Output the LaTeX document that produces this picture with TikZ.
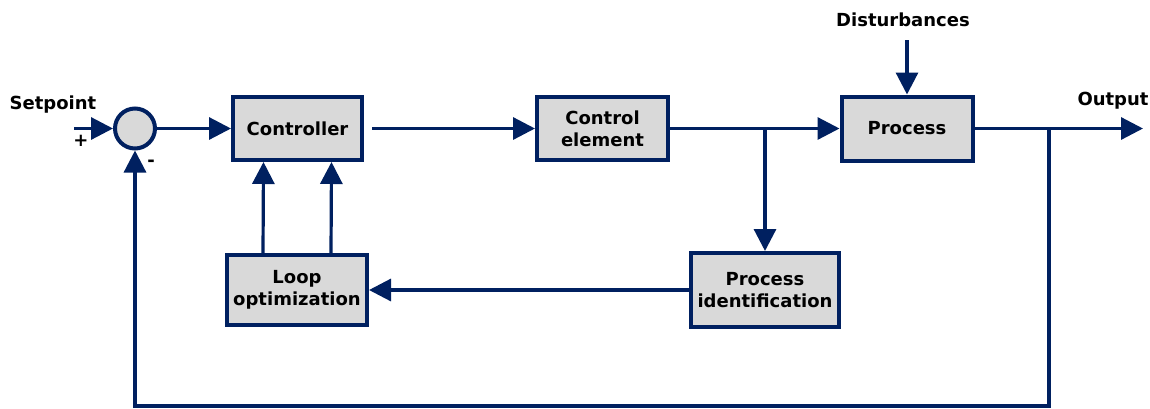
\documentclass[tikz,border=0pt]{standalone}
\usepackage{fontspec}
\setmainfont{DejaVu Sans}
\usetikzlibrary{arrows.meta,%
		calc,%
		positioning}
\definecolor{navy}{RGB}{0,32,96}
\definecolor{boxgray}{RGB}{217,217,217}
\tikzset{blockbox/.style={draw=navy, fill=boxgray, line width=4pt,
		font=\bfseries\fontsize{18}{22}\selectfont, align=center, inner sep=0pt},
	sig/.style={draw=navy, line width=3.2pt, -{Triangle[length=22pt,width=22pt]}},
	lbl/.style={font=\bfseries\fontsize{18}{22}\selectfont}}

\begin{document}
\begin{tikzpicture}[x=1pt,y=-1pt]
\useasboundingbox (0,0) rectangle (1150,408);
%blocchi
\node[blockbox, circle, minimum size=40pt] (sum) at (135,128.5) {};
\node[blockbox, minimum width=129pt, minimum height=63pt] (ctrl) at (297.5,128.5) {Controller};
\node[blockbox, minimum width=131pt, minimum height=63pt] (elem) at (602.5,128.5) {Control\\element};
\node[blockbox, minimum width=131pt, minimum height=64pt] (proc) at (907,128.5) {Process};
\node[blockbox, minimum width=148pt, minimum height=74pt] (pid) at (765,290) {Process\\identification};
\node[blockbox, minimum width=140pt, minimum height=70pt] (loop) at (297,290) {Loop\\optimization};
%etichette
\node[lbl] (setp) at (53,105) {Setpoint};
\node[lbl] (plus) at (81,141) {+};
\node[lbl] (minus) at (151,163) {-};
\node[lbl] (dist) at (903,20) {Disturbances};
\node[lbl] (outl) at (1113,101) {Output};
%punti
\coordinate (sp) at (74,128.5);
\coordinate (dtop) at (907,40);
\coordinate (br1) at (765,128.5);
\coordinate (br2) at (1049,128.5);
\coordinate (out) at (1143,128.5);
\coordinate (fb) at (1049,406);
%collegamenti
\draw[sig] (sp) -- (sum.west);
\draw[sig] (sum.east) -- (ctrl.west);
\draw[sig, shorten <=8pt] (ctrl.east) -- (elem.west);
\draw[sig] (elem.east) -- (proc.west);
\draw[sig] (dtop) -- (proc.north);
\draw[sig] (proc.east) -- (out);
\draw[sig] (br1) -- (pid.north);
\draw[sig] (pid.west) -- (loop.east);
\draw[sig] ([xshift=-34pt]loop.north) -- ([xshift=-34pt]ctrl.south);
\draw[sig] ([xshift=34pt]loop.north) -- ([xshift=34pt]ctrl.south);
\draw[sig] (br2) -- (fb) -| (sum.south);
\end{tikzpicture}
\end{document}
